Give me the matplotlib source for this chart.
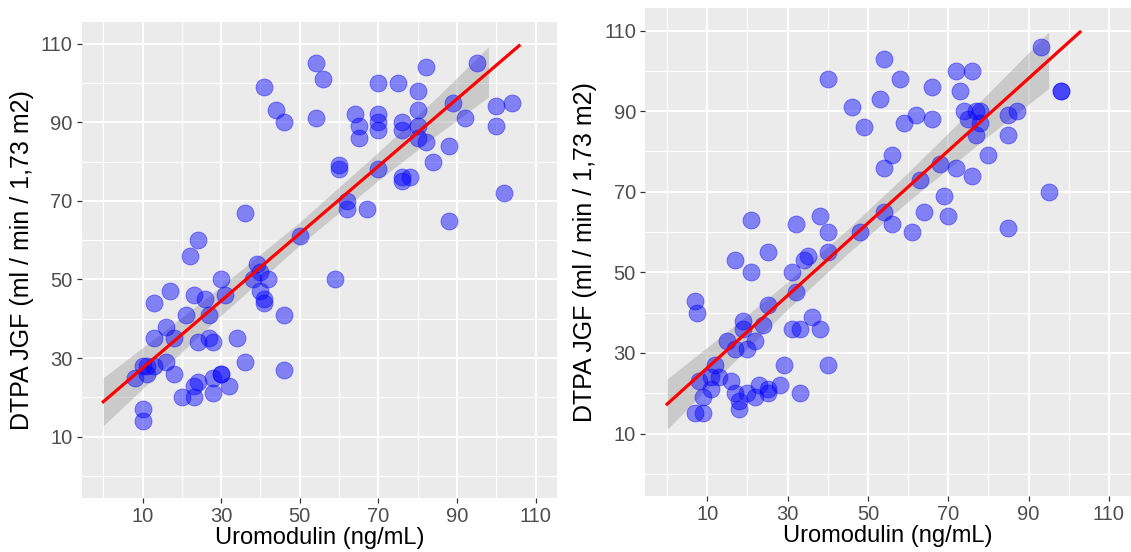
import numpy as np
import matplotlib
matplotlib.use('Agg')
import matplotlib.pyplot as plt

plt.rcParams['font.family'] = ['Liberation Sans', 'DejaVu Sans']

# left panel points (Uromodulin ng/mL, DTPA JGF)
left_x = [54, 56, 41, 44, 46, 54, 36, 24, 50, 82, 95, 70, 75, 80, 64, 65, 65, 70, 70, 70,
          76, 76, 80, 80, 80, 82, 89, 92, 100, 104, 100, 88, 84, 60, 60, 70, 76, 76, 78, 62,
          62, 67, 102, 88, 22, 30, 17, 13, 23, 26, 31, 39, 40, 42, 38, 40, 41, 41, 46, 21,
          27, 16, 13, 18, 24, 27, 28, 34, 36, 46, 10, 13, 16, 8, 11, 18, 23, 24, 28, 30,
          30, 32, 20, 23, 28, 10, 10, 59, 11]
left_y = [105, 101, 99, 93, 90, 91, 67, 60, 61, 104, 105, 100, 100, 98, 92, 89, 86, 92, 90, 88,
          90, 88, 93, 89, 86, 85, 95, 91, 94, 95, 89, 84, 80, 79, 78, 78, 76, 75, 76, 70,
          68, 68, 72, 65, 56, 50, 47, 44, 46, 45, 46, 54, 52, 50, 50, 47, 45, 44, 41, 41,
          41, 38, 35, 35, 34, 35, 34, 35, 29, 27, 28, 28, 29, 25, 26, 26, 23, 24, 25, 26,
          26, 23, 20, 20, 21, 17, 14, 50, 28]

# right panel points
right_x = [54, 40, 53, 46, 49, 54, 21, 32, 38, 40, 48, 54, 58, 66, 72, 76, 73, 93, 98, 98,
           62, 59, 66, 74, 75, 77, 78, 78, 77, 85, 87, 85, 80, 56, 68, 72, 76, 63, 69, 95,
           64, 70, 56, 61, 85, 17, 25, 21, 31, 34, 35, 40, 32, 7, 7.5, 25, 19, 19, 24, 31,
           33, 36, 38, 15, 22, 17, 20, 12, 29, 40, 8, 11, 13, 11, 16, 17, 9, 20, 22, 23,
           25, 25, 28, 33, 18, 18, 7, 9]
right_y = [103, 98, 93, 91, 86, 76, 63, 62, 64, 60, 60, 65, 98, 96, 100, 100, 95, 106, 95, 95,
           89, 87, 88, 90, 88, 90, 90, 87, 84, 89, 90, 84, 79, 79, 77, 76, 74, 73, 69, 70,
           65, 64, 62, 60, 61, 53, 55, 50, 50, 53, 54, 55, 45, 43, 40, 42, 38, 36, 37, 36,
           36, 39, 36, 33, 33, 31, 31, 27, 27, 27, 23, 24, 24, 21, 23, 20, 19, 20, 19, 22,
           21, 20, 22, 20, 18, 16, 15, 15]

# fitted lines: intercept, slope, x end
left_fit = (18.9, 0.856, 105.8)
right_fit = (17.3, 0.898, 102.8)

# confidence band half-widths read at a few x positions
left_band_x = [0, 15, 30, 50, 70, 85, 98]
left_band_h = [6.1, 4.8, 3.7, 2.9, 3.6, 4.8, 6.4]
right_band_x = [0, 15, 30, 45, 60, 80, 95]
right_band_h = [6.25, 4.6, 3.4, 3.0, 3.6, 5.3, 7.0]

ticks = [10, 30, 50, 70, 90, 110]
minor = [0, 20, 40, 60, 80, 100]

fig = plt.figure(figsize=(11.31, 5.52), dpi=100)
ax1 = fig.add_axes([0.0722, 0.0984, 0.4205, 0.8618])
ax2 = fig.add_axes([0.5703, 0.1014, 0.4297, 0.8835])


def draw(ax, xs, ys, fit, bx, bh):
    ax.set_facecolor('#EBEBEB')
    for s in ax.spines.values():
        s.set_visible(False)
    ax.set_xlim(-5.5, 115.5)
    ax.set_ylim(-5.5, 115.5)
    ax.set_xticks(ticks)
    ax.set_yticks(ticks)
    ax.set_xticks(minor, minor=True)
    ax.set_yticks(minor, minor=True)
    ax.grid(True, which='major', color='white', linewidth=1.4)
    ax.grid(True, which='minor', color='white', linewidth=0.8)
    ax.set_axisbelow(True)
    ax.tick_params(which='minor', length=0)
    ax.tick_params(which='major', length=3.5, width=0.9, color='#333333',
                   labelcolor='#4D4D4D', labelsize=14.5, pad=3)

    b0, b1, xend = fit
    bx = np.array(bx)
    bh = np.array(bh)
    centre = b0 + b1 * bx
    ax.fill_between(bx, centre - bh, centre + bh, color='#999999', alpha=0.4,
                    linewidth=0, zorder=2)
    ax.scatter(xs, ys, s=150, color='blue', alpha=0.45, edgecolors='blue',
               linewidths=0.6, zorder=3)
    ax.plot([0, xend], [b0, b0 + b1 * xend], color='red', linewidth=2.3, zorder=4)

    ax.set_xlabel('Uromodulin (ng/mL)', fontsize=17, color='black', labelpad=1)
    ax.set_ylabel('DTPA JGF (ml / min / 1,73 m2)', fontsize=18, color='black',
                  labelpad=5)


draw(ax1, left_x, left_y, left_fit, left_band_x, left_band_h)
draw(ax2, right_x, right_y, right_fit, right_band_x, right_band_h)

fig.savefig('out.png', dpi=100)
